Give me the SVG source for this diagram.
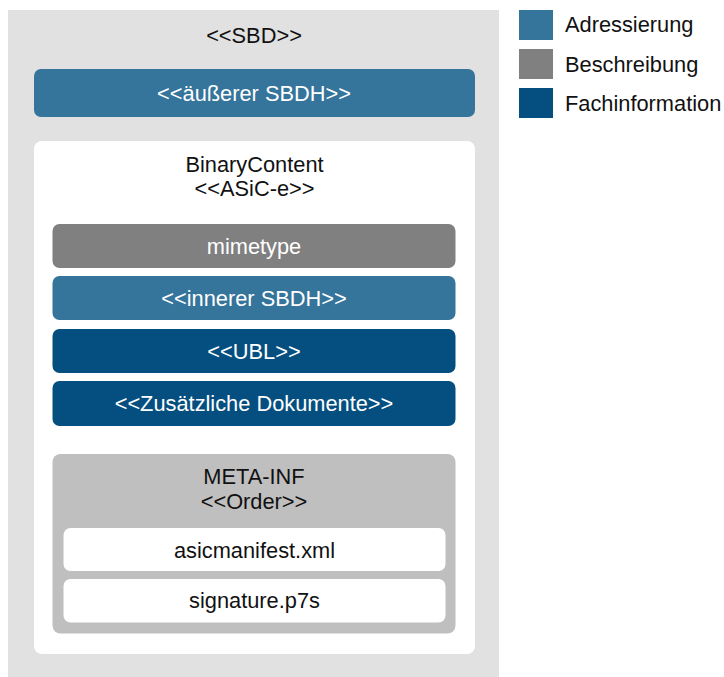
<svg xmlns="http://www.w3.org/2000/svg" width="724" height="677" viewBox="0 0 724 677">
<style>
text{font-family:"Liberation Sans",Arial,sans-serif;font-size:21.8px;text-anchor:middle;fill:#111}
.w{fill:#fff}
.lg{text-anchor:start}
.adr{fill:#35749b}
.bes{fill:#808080}
.fach{fill:#044f80}
</style>
<rect width="724" height="677" fill="#fff"/>
<g id="legend">
<rect class="adr" x="519" y="10" width="34" height="30"/>
<text class="lg" x="565" y="32">Adressierung</text>
<rect class="bes" x="519" y="49" width="34" height="30"/>
<text class="lg" x="565" y="72">Beschreibung</text>
<rect class="fach" x="519" y="88" width="34" height="30"/>
<text class="lg" x="565" y="111">Fachinformation</text>
</g>
<g id="sbd">
<rect x="8" y="10" width="491" height="667" fill="#e1e1e1"/>
<text x="254" y="43">&lt;&lt;SBD&gt;&gt;</text>
</g>
<g id="outer-sbdh">
<rect class="adr" x="34" y="69" width="441" height="48" rx="7"/>
<text class="w" x="254" y="100.5">&lt;&lt;äußerer SBDH&gt;&gt;</text>
</g>
<g id="binary-content">
<rect x="34" y="141" width="441" height="513" rx="8" fill="#fff"/>
<text x="254.5" y="171.5">BinaryContent</text>
<text x="254.5" y="195.5">&lt;&lt;ASiC-e&gt;&gt;</text>
</g>
<g id="mimetype">
<rect class="bes" x="52.5" y="224" width="403" height="44" rx="7"/>
<text class="w" x="254" y="253.5">mimetype</text>
</g>
<g id="inner-sbdh">
<rect class="adr" x="52.5" y="276" width="403" height="44" rx="7"/>
<text class="w" x="254" y="305.5">&lt;&lt;innerer SBDH&gt;&gt;</text>
</g>
<g id="ubl">
<rect class="fach" x="52.5" y="329" width="403" height="44" rx="7"/>
<text class="w" x="254" y="358.5">&lt;&lt;UBL&gt;&gt;</text>
</g>
<g id="zusaetzliche">
<rect class="fach" x="52.5" y="381" width="403" height="45" rx="7"/>
<text class="w" x="254" y="411">&lt;&lt;Zusätzliche Dokumente&gt;&gt;</text>
</g>
<g id="meta-inf">
<rect x="52.5" y="454" width="403" height="179.5" rx="8" fill="#bfbfbf"/>
<text x="254" y="484">META-INF</text>
<text x="254" y="508.5">&lt;&lt;Order&gt;&gt;</text>
</g>
<g id="asicmanifest">
<rect x="63.5" y="528" width="382" height="43" rx="7" fill="#fff"/>
<text x="254.5" y="557.5">asicmanifest.xml</text>
</g>
<g id="signature">
<rect x="63.5" y="579" width="382" height="43.5" rx="7" fill="#fff"/>
<text x="254.5" y="607.5">signature.p7s</text>
</g>
<g id="connectors"/>
</svg>
